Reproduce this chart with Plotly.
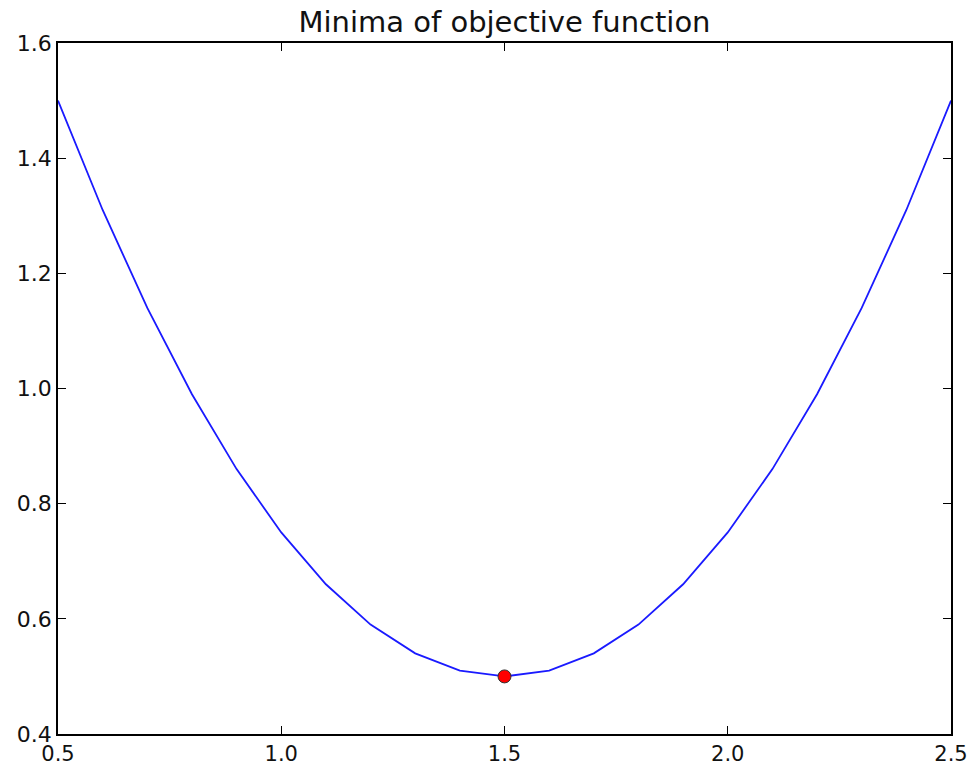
import plotly.graph_objects as go

x_vals = [0.5, 0.6, 0.7, 0.8, 0.9, 1.0, 1.1, 1.2, 1.3, 1.4, 1.5,
          1.6, 1.7, 1.8, 1.9, 2.0, 2.1, 2.2, 2.3, 2.4, 2.5]
y_vals = [1.5, 1.31, 1.14, 0.99, 0.86, 0.75, 0.66, 0.59, 0.54, 0.51, 0.50,
          0.51, 0.54, 0.59, 0.66, 0.75, 0.86, 0.99, 1.14, 1.31, 1.5]
min_x = [1.5]
min_y = [0.5]
x_ticks = [0.5, 1.0, 1.5, 2.0, 2.5]
y_ticks = [0.4, 0.6, 0.8, 1.0, 1.2, 1.4, 1.6]

fig = go.Figure()
fig.add_trace(go.Scatter(x=x_vals, y=y_vals, mode="lines",
                         line=dict(color="#1a1aff", width=1.8), showlegend=False))
fig.add_trace(go.Scatter(x=min_x, y=min_y, mode="markers",
                         marker=dict(color="#ff0000", size=13,
                                     line=dict(color="#333333", width=1)),
                         showlegend=False))

axis_common = dict(showgrid=False, zeroline=False, showline=True, linecolor="black",
                   linewidth=1.5, mirror="allticks", ticks="inside", ticklen=8,
                   tickwidth=1, tickcolor="black", automargin=False)

fig.update_layout(
    width=973, height=767,
    margin=dict(l=58, r=22, t=43, b=33),
    paper_bgcolor="white", plot_bgcolor="white",
    title=dict(text="Minima of objective function", x=0.5, xref="paper",
               xanchor="center", y=1 - 22/767, yanchor="middle",
               font=dict(family="DejaVu Sans", size=29, color="#111111")),
    xaxis=dict(range=[0.5, 2.5], tickvals=x_ticks, ticklabelstandoff=0,
               ticktext=[f"{v:.1f}" for v in x_ticks],
               tickfont=dict(family="DejaVu Sans", size=21, color="#111111"),
               **axis_common),
    yaxis=dict(range=[0.4, 1.6], tickvals=y_ticks,
               ticktext=[f"{v:.1f}" for v in y_ticks],
               tickfont=dict(family="DejaVu Sans", size=22, color="#111111"),
               **axis_common),
)

fig.write_html("out.html", config={"displayModeBar": False},
               post_script="document.body.style.margin='0';document.body.style.overflow='hidden';")
